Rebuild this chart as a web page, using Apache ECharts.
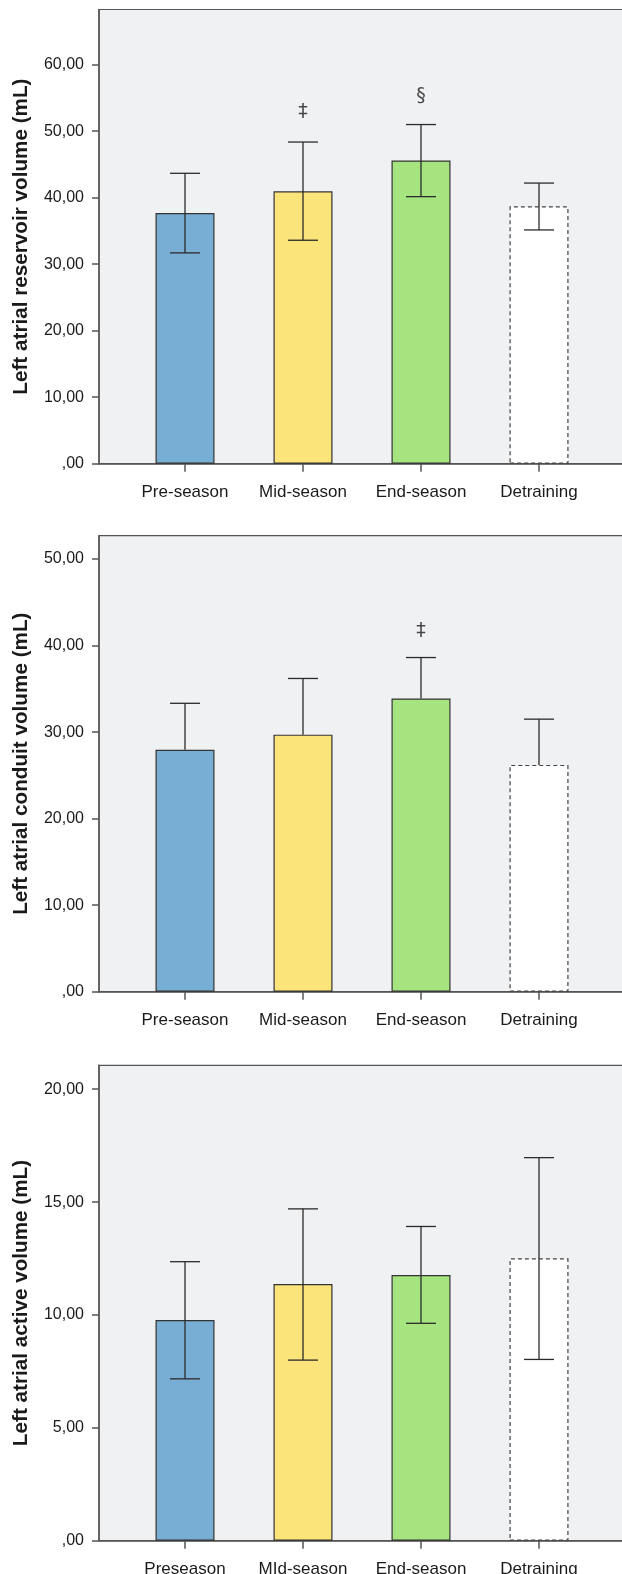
<!DOCTYPE html>
<html>
<head>
<meta charset="utf-8">
<script src="https://cdn.jsdelivr.net/npm/echarts@6/dist/echarts.min.js"></script>
<style>
html,body{margin:0;padding:0;background:#fff;}
#c{width:622px;height:1574px;}
</style>
</head>
<body>
<div id="c"></div>
<script>
// ---------- data ----------
const cats1 = ['Pre-season', 'Mid-season', 'End-season', 'Detraining'];
const cats2 = ['Pre-season', 'Mid-season', 'End-season', 'Detraining'];
const cats3 = ['Preseason', 'MId-season', 'End-season', 'Detraining'];

// Panel 1: Left atrial reservoir volume (mL)
const mean1 = [37.7, 40.96, 45.6, 38.7];
const lo1   = [31.7, 33.6, 40.16, 35.15];
const hi1   = [43.67, 48.37, 51.0, 42.2];
const ann1Cats = ['Mid-season', 'End-season'];
const ann1Y    = [52.9, 55.3];
const ann1Text = ['‡', '§'];
const yTicks1  = [0, 10, 20, 30, 40, 50, 60];

// Panel 2: Left atrial conduit volume (mL) (upper whisker only)
const mean2 = [27.96, 29.71, 33.89, 26.21];
const lo2   = [27.96, 29.71, 33.89, 26.21];
const hi2   = [33.33, 36.2, 38.62, 31.5];
const ann2Cats = ['End-season'];
const ann2Y    = [41.7];
const ann2Text = ['‡'];
const yTicks2  = [0, 10, 20, 30, 40, 50];

// Panel 3: Left atrial active volume (mL)
const mean3 = [9.78, 11.37, 11.77, 12.51];
const lo3   = [7.17, 8.0, 9.63, 8.03];
const hi3   = [12.36, 14.70, 13.92, 16.97];
const ann3Cats = [];
const ann3Y    = [];
const ann3Text = [];
const yTicks3  = [0, 5, 10, 15, 20];

const titles = ['Left atrial reservoir volume (mL)', 'Left atrial conduit volume (mL)', 'Left atrial active volume (mL)'];
const yMax = [68.3, 52.7, 21.06];

// ---------- styles ----------
const barColors = ['#79aed4', '#fbe479', '#a5e47f', '#ffffff'];
const bg = '#f0f1f3';
const axisCol = '#555555';
const txtCol = '#1a1a1a';
const panelTop = [9.5, 535.7, 1065.3];
const panelH = [454.2, 456, 475.4];

const panels = [
  {cats: cats1, mean: mean1, lo: lo1, hi: hi1, ac: ann1Cats, ay: ann1Y, at: ann1Text, ticks: yTicks1},
  {cats: cats2, mean: mean2, lo: lo2, hi: hi2, ac: ann2Cats, ay: ann2Y, at: ann2Text, ticks: yTicks2},
  {cats: cats3, mean: mean3, lo: lo3, hi: hi3, ac: ann3Cats, ay: ann3Y, at: ann3Text, ticks: yTicks3}
];

const grid = [], xAxis = [], yAxis = [], series = [];

function errRender(params, api) {
  const x = api.value(0), lo = api.value(1), hi = api.value(2), m = api.value(3);
  const pHi = api.coord([x, hi]);
  const pLo = api.coord([x, lo]);
  const half = 15;
  const st = {stroke: '#2b2b2b', lineWidth: 1.3};
  const ch = [
    {type: 'line', shape: {x1: pHi[0], y1: pHi[1], x2: pLo[0], y2: pLo[1]}, style: st},
    {type: 'line', shape: {x1: pHi[0] - half, y1: pHi[1], x2: pHi[0] + half, y2: pHi[1]}, style: st}
  ];
  if (lo < m - 1e-9) {
    ch.push({type: 'line', shape: {x1: pLo[0] - half, y1: pLo[1], x2: pLo[0] + half, y2: pLo[1]}, style: st});
  }
  return {type: 'group', children: ch};
}

function fmt(v) {
  if (Math.abs(v) < 1e-9) return ',00';
  return Number(v).toFixed(2).replace('.', ',');
}

panels.forEach((p, k) => {
  const gA = 2 * k, gB = 2 * k + 1;
  // frame grid
  grid.push({left: 99, right: -4, top: panelTop[k], height: panelH[k], show: true,
    outerBoundsMode: 'none', containLabel: false,
    backgroundColor: bg, borderColor: axisCol, borderWidth: 1.2});
  // bar grid
  grid.push({left: 126, width: 472, top: panelTop[k], height: panelH[k],
    outerBoundsMode: 'none', containLabel: false});

  xAxis.push({gridIndex: gA, type: 'value', min: 0, max: 1,
    axisLine: {show: true, lineStyle: {color: axisCol, width: 1.5}},
    axisTick: {show: false}, axisLabel: {show: false}, splitLine: {show: false}});
  xAxis.push({gridIndex: gB, type: 'category', data: p.cats,
    axisLine: {show: false},
    axisTick: {show: true, alignWithLabel: true, length: 8, lineStyle: {color: axisCol, width: 1.5}},
    axisLabel: {color: txtCol, fontFamily: 'Liberation Sans', fontSize: 17, margin: 20}});

  yAxis.push({gridIndex: gA, type: 'value', min: 0, max: yMax[k],
    name: titles[k], nameLocation: 'middle', nameGap: 67,
    nameTextStyle: {fontFamily: 'Liberation Sans', fontWeight: 'bold', fontSize: 20.7, color: txtCol},
    axisLine: {show: true, lineStyle: {color: axisCol, width: 1.5}},
    axisTick: {show: true, length: 7, customValues: p.ticks, lineStyle: {color: axisCol, width: 1.5}},
    axisLabel: {color: txtCol, fontFamily: 'Liberation Sans', fontSize: 16, margin: 15,
      customValues: p.ticks, formatter: fmt},
    splitLine: {show: false}});
  yAxis.push({gridIndex: gB, type: 'value', min: 0, max: yMax[k], show: false, splitLine: {show: false}});

  const xi = gB, yi = gB;
  series.push({type: 'bar', xAxisIndex: xi, yAxisIndex: yi, barWidth: 59, z: 2,
    data: p.mean.map((v, i) => ({value: v, itemStyle: {
      color: barColors[i],
      borderColor: i === 3 ? '#444' : '#333',
      borderWidth: 1.2,
      borderType: i === 3 ? [4, 3] : 'solid'
    }})),
    animation: false});
  series.push({type: 'custom', xAxisIndex: xi, yAxisIndex: yi, z: 5,
    renderItem: errRender,
    data: p.mean.map((m, i) => [i, p.lo[i], p.hi[i], m]),
    animation: false});
  if (p.ac.length) {
    series.push({type: 'scatter', xAxisIndex: xi, yAxisIndex: yi, symbolSize: 0, z: 6,
      data: p.ac.map((c, i) => ({value: [c, p.ay[i]], label: {show: true, position: 'inside',
        formatter: p.at[i], fontSize: 19, color: txtCol, fontFamily: 'DejaVu Sans'}})),
      animation: false});
  }
});

const chart = echarts.init(document.getElementById('c'), null, {renderer: 'canvas'});
chart.setOption({animation: false, backgroundColor: '#ffffff', grid, xAxis, yAxis, series});
</script>
</body>
</html>
